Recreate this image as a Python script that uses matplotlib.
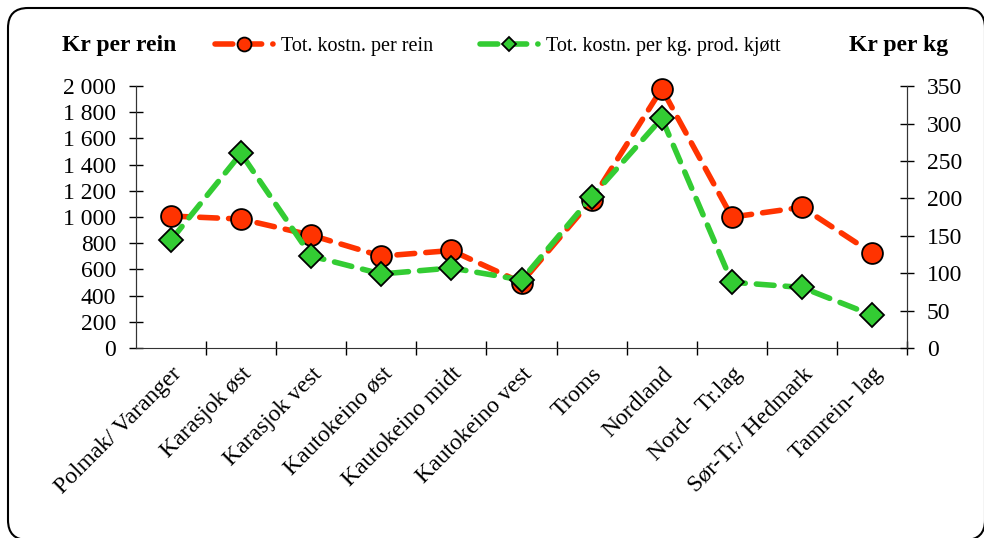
import numpy as np
import matplotlib.pyplot as plt
from matplotlib.patches import FancyBboxPatch
from matplotlib.lines import Line2D

plt.rcParams['font.family'] = ['Liberation Serif', 'DejaVu Serif']

categories = ["Polmak/ Varanger", "Karasjok øst", "Karasjok vest", "Kautokeino øst",
              "Kautokeino midt", "Kautokeino vest", "Troms", "Nordland",
              "Nord-  Tr.lag", "Sør-Tr./ Hedmark", "Tamrein- lag"]
per_rein = [1008, 985, 862, 702, 745, 500, 1130, 1980, 1000, 1075, 725]
per_kg = [144, 260, 123, 99, 107, 91, 202, 307, 88, 81, 44]

red = "#FF3300"
green = "#33CC33"

fig = plt.figure(figsize=(9.84, 5.38), dpi=100)
ax = fig.add_axes([0.138, 0.353, 0.784, 0.487])
ax2 = ax.twinx()

x = np.arange(len(categories))
line_kw = dict(linewidth=4, dashes=(3.2, 2.0), dash_capstyle='round', markeredgecolor='black',
               markeredgewidth=1.3)
ax.plot(x, per_rein, color=red, marker='o', markersize=15, markerfacecolor=red, zorder=3,
        clip_on=False, **line_kw)
ax2.plot(x, per_kg, color=green, marker='D', markersize=12, markerfacecolor=green, zorder=4,
         clip_on=False, **line_kw)
ax2.set_zorder(ax.get_zorder() + 1)
ax2.patch.set_visible(False)

ax.set_xlim(-0.5, len(categories) - 0.5)
ax.set_ylim(0, 2000)
ax2.set_ylim(0, 350)
ax.set_yticks(np.arange(0, 2001, 200))
ax.set_yticklabels([f"{v:,}".replace(",", " ") for v in range(0, 2001, 200)])
ax2.set_yticks(np.arange(0, 351, 50))

ax.set_xticks(x)
ax.set_xticklabels(categories, rotation=45, ha='right', rotation_mode='anchor', fontsize=17)
ax.set_xticks(np.arange(-0.5, len(categories) + 0.5, 1)[1:], minor=True)
ax.tick_params(axis='x', which='major', length=0, pad=11)
ax.tick_params(axis='x', which='minor', direction='inout', length=10, width=1)
ax.tick_params(axis='y', direction='inout', length=10, width=1, labelsize=17, pad=9)
ax2.tick_params(axis='y', direction='inout', length=10, width=1, labelsize=17, pad=9)

for a in (ax, ax2):
    a.spines['top'].set_visible(False)
    for s in a.spines.values():
        s.set_color('#333333')
ax2.spines['bottom'].set_visible(False)

fig.text(0.063, 0.915, "Kr per rein", fontsize=17, fontweight='bold', va='center')
fig.text(0.863, 0.915, "Kr per kg", fontsize=17, fontweight='bold', va='center')

handles = [Line2D([], [], color=red, marker='o', markersize=10, markerfacecolor=red, **line_kw),
           Line2D([], [], color=green, marker='D', markersize=7, markerfacecolor=green, **line_kw)]
fig.legend(handles, ["Tot. kostn. per rein", "Tot. kostn. per kg. prod. kjøtt"],
           loc='center', bbox_to_anchor=(0.506, 0.913), ncol=2, frameon=False,
           fontsize=14.5, handlelength=2.9, columnspacing=2.3, handletextpad=0.4)

box = FancyBboxPatch((0.08, -0.02), 9.77, 5.32, boxstyle="round,pad=0,rounding_size=0.2",
                     transform=fig.dpi_scale_trans, fill=False, edgecolor='black', linewidth=1.5)
fig.patches.append(box)

fig.savefig("out.png", dpi=100)
